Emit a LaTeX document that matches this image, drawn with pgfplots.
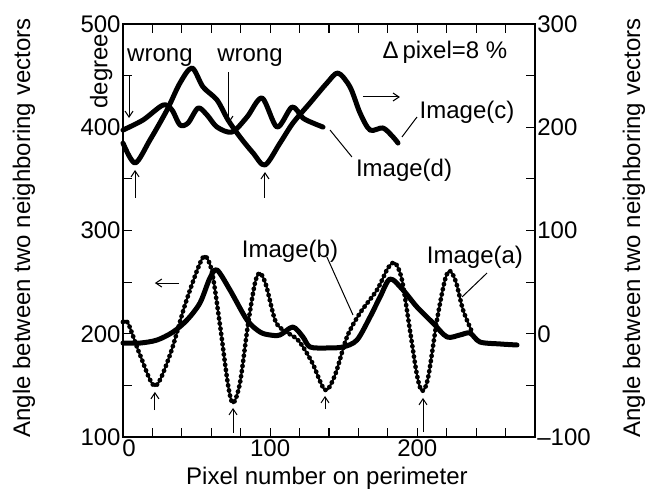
\documentclass[border=0pt]{standalone}
\usepackage{pgfplots}
\pgfplotsset{compat=1.18}
\usepackage{fontspec}
\setmainfont{Liberation Sans}
\usetikzlibrary{arrows.meta}
\newcommand\fs{\fontsize{12}{14}\selectfont}
\pgfplotstableread{
x y
0 211.4
3.4 210.4
11.6 179.4
21.7 149.4
31.9 179.4
42.1 227.8
51.0 263.7
55.7 275.3
60.5 259.8
65.9 208.5
71.4 150.4
74.8 132.9
79.5 152.3
84.9 208.5
89.7 249.1
93.1 258.8
97.2 247.2
103.3 213.3
108.7 203.6
118.9 193.9
128.4 172.6
137.3 145.5
144.1 160.0
152.2 196.9
161.1 220.1
172.6 242.4
180.1 263.7
184.9 268.5
189.6 252.1
195.0 203.6
199.8 160.0
203.2 144.6
207.3 157.1
213.4 213.3
218.8 252.1
222.2 260.8
226.3 250.1
231.1 223.0
237.2 201.7
}\imga
\pgfplotstableread{
x y
0 191.0
11.6 191.0
23.1 193.9
34.0 201.7
43.5 213.3
52.3 229.8
59.1 254.0
63.9 261.7
72.7 242.4
84.3 213.3
93.1 201.7
99.9 198.8
106.7 198.8
115.5 206.5
122.3 196.9
127.1 187.2
138.6 186.2
149.5 187.2
159.0 193.9
167.9 216.2
174.7 235.6
181.5 253.0
190.3 242.4
199.8 225.9
210.7 210.4
220.2 196.9
229.0 198.8
235.8 200.7
242.6 192.0
256.2 190.1
267.8 189.1
}\imgb
\pgfplotstableread{
x y
0 384.7
8.2 365.4
18.3 387.6
29.9 416.7
38.7 442.8
46.9 457.4
54.4 439.0
63.9 426.4
71.4 407.0
79.5 390.6
88.4 375.1
96.5 363.4
106.7 384.7
115.5 404.1
127.1 423.5
138.6 442.8
146.1 452.5
154.3 439.0
161.1 413.8
167.9 397.3
176.7 399.3
183.5 390.6
186.9 384.7
}\imgc
\pgfplotstableread{
x y
0 397.3
13.6 407.0
27.2 421.5
33.3 416.7
38.7 402.2
44.2 404.1
51.0 418.6
57.1 411.9
63.9 400.2
74.1 395.4
84.3 409.9
94.5 428.3
104.7 400.2
114.9 419.6
122.3 408.9
129.1 404.1
135.9 400.2
}\imgd
\begin{document}
\begin{tikzpicture}[font=\fs]
\path[use as bounding box] (-61.5pt,-27pt) rectangle (263.5pt,218.5pt);
\begin{axis}[
  at={(0,0)}, anchor=south west,
  scale only axis, width=206pt, height=206.5pt,
  xmin=0, xmax=280, ymin=100, ymax=500,
  clip=false,
  axis line style={line width=1pt},
  tick style={line width=0.6pt, black},
  major tick length=4.5pt,
  tick align=inside,
  xtick={0,20,...,280}, xticklabels={\hspace*{6pt}0,,,,,100,,,,,200,,,,},
  ytick={100,150,...,500}, yticklabels={100,,200,,300,,400,,500},
  xtick pos=both, ytick pos=left,
  /pgf/number format/assume math mode=true,
  xticklabel style={font=\fs, inner sep=1pt},
  yticklabel style={font=\fs, inner sep=1pt},
  thickcurve/.style={line width=2.5pt, smooth, line join=round, line cap=round},
]
\addplot[thickcurve] table {\imgb};
\addplot[thickcurve] table {\imgc};
\addplot[thickcurve] table {\imgd};
\addplot[smooth, line width=1pt, postaction={draw, line width=2.4pt, dash pattern=on 0pt off 2.6pt, line cap=round}] table {\imga};

\node[rotate=90] at (axis description cs:-0.2403,0.506) {Angle between two neighboring vectors};
\node[rotate=90] at (axis description cs:1.2403,0.506) {Angle between two neighboring vectors};
\node[rotate=90] at (axis description cs:-0.053,0.886) {degree};
\node[anchor=base] at (axis description cs:0.495,-0.114) {Pixel number on perimeter};

\node at (axis cs:25.1,467.1) {wrong};
\node at (axis cs:86.3,467.1) {wrong};
\node at (axis cs:218.8,472.9) {Δ\,pixel=8~\%};
\node at (axis cs:233.8,414.8) {Image(c)};
\node at (axis cs:191.0,358.6) {Image(d)};
\node at (axis cs:113.5,280.1) {Image(b)};
\node at (axis cs:239.2,274.3) {Image(a)};

\begin{scope}[line width=0.5pt, -{Straight Barb[length=3pt,width=4pt]}]
\draw (axis cs:4.1,450.6) -- (axis cs:4.1,409.0);
\draw (axis cs:72,453.5) -- (axis cs:72,404.1);
\draw (axis cs:8.2,331.5) -- (axis cs:8.2,358.6);
\draw (axis cs:96.5,331.5) -- (axis cs:96.5,356.6);
\draw (axis cs:21.7,126.1) -- (axis cs:21.7,143.6);
\draw (axis cs:74.8,103.9) -- (axis cs:74.8,128.1);
\draw (axis cs:137.3,127.1) -- (axis cs:137.3,139.7);
\draw (axis cs:203.9,104.8) -- (axis cs:203.9,137.8);
\draw (axis cs:38.1,249.1) -- (axis cs:21.7,249.1);
\draw (axis cs:163.1,429.3) -- (axis cs:188.2,429.3);
\end{scope}
\begin{scope}[line width=0.5pt]
\draw (axis cs:189.6,390.6) -- (axis cs:199.8,409.9);
\draw (axis cs:140.7,397.3) -- (axis cs:155.6,371.2);
\draw (axis cs:138.6,274.3) -- (axis cs:156.3,218.2);
\draw (axis cs:247.4,258.8) -- (axis cs:230.4,235.6);
\end{scope}
\end{axis}
\begin{axis}[
  at={(0,0)}, anchor=south west,
  scale only axis, width=206pt, height=206.5pt,
  xmin=0, xmax=280, ymin=-100, ymax=300,
  axis x line=none, axis y line*=right,
  axis line style={line width=1pt},
  tick style={line width=0.6pt, black},
  major tick length=4.5pt,
  tick align=inside,
  ytick={-100,-50,...,300}, yticklabels={\textendash100,,0,,100,,200,,300},
  yticklabel style={font=\fs, inner sep=1pt},
]
\addplot[draw=none] coordinates {(0,0)};
\end{axis}
\end{tikzpicture}
\end{document}
